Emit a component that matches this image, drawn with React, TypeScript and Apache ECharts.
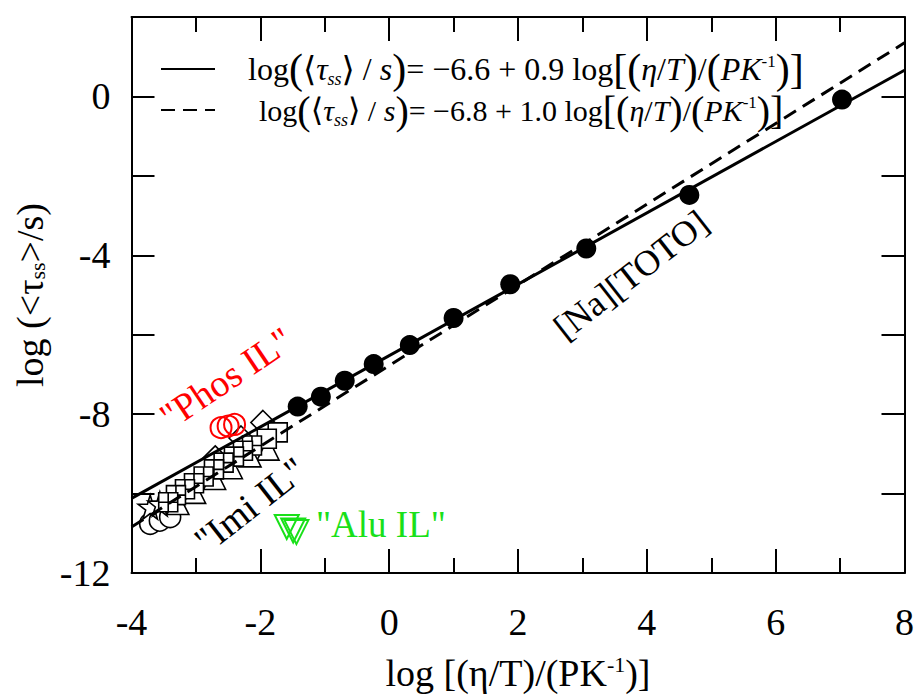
import React, { useEffect, useRef } from "react";
import * as echarts from "echarts";

// ---- data ----
const fitX = [-4, 8];
const fitSolidY = [-10.12, 0.66];
const fitDashedY = [-10.84, 1.35];

const natotoX = [-1.42, -1.06, -0.69, -0.24, 0.32, 1.0, 1.88, 3.06, 4.66, 7.03];
const natotoY = [-7.81, -7.56, -7.16, -6.74, -6.26, -5.58, -4.73, -3.83, -2.48, -0.08];

const imiBoxX = [-2.13, -2.27, -2.41, -2.57, -2.72, -2.88, -3.03, -3.17, -3.31, -3.43];
const imiBoxY = [-8.79, -8.92, -9.07, -9.22, -9.39, -9.57, -9.74, -9.89, -10.04, -10.22];

const imiSquareX = [-1.73, -1.9];
const imiSquareY = [-8.46, -8.62];

const imiDiamondX = [-1.96, -2.3, -2.7];
const imiDiamondY = [-8.21, -8.6, -9.1];

const imiTriX = [-1.88, -2.16, -2.45, -2.71, -3.02, -3.28];
const imiTriY = [-8.88, -9.05, -9.35, -9.62, -9.97, -10.25];

const imiStarX = [-3.71, -3.56];
const imiStarY = [-10.34, -10.26];

const imiCircleX = [-3.71, -3.56, -3.4];
const imiCircleY = [-10.76, -10.68, -10.59];

const phosX = [-2.61, -2.5, -2.4];
const phosY = [-8.34, -8.3, -8.26];

const aluX = [-1.59, -1.49, -1.44];
const aluY = [-10.84, -10.93, -10.97];

const xTicks = [-4, -2, 0, 2, 4, 6, 8];
const yTickLabels = [0, -4, -8, -12];

const F = '"Liberation Serif", "DejaVu Serif", serif';

const zip = (xs: number[], ys: number[]) => xs.map((x, i) => [x, ys[i]]);

const STAR = "path://M50,0 L61,35 L98,35 L68,57 L79,91 L50,70 L21,91 L32,57 L2,35 L39,35 Z";
const BOXPLUS = "path://M0,0 L10,0 L10,10 L0,10 Z M5,0 L5,10 M0,5 L10,5";
const DIAMOND = "path://M5,0 L10,5 L5,10 L0,5 Z";
const SQUARE = "path://M0,0 L10,0 L10,10 L0,10 Z";

const openStyle = { color: "#fff", borderColor: "#000", borderWidth: 1.6, opacity: 1 };

const richSet = (p: string, fs: number, pad: number) => ({
  [p + "L"]: { fontFamily: F, fontSize: fs, color: "#000", lineHeight: 38, padding: [0, 0, 0, pad] },
  [p + "n"]: { fontFamily: F, fontSize: fs, color: "#000", lineHeight: 38 },
  [p + "i"]: { fontFamily: F, fontSize: fs, fontStyle: "italic", color: "#000", lineHeight: 38 },
  [p + "b"]: { fontFamily: F, fontSize: fs + 10, color: "#000", lineHeight: 38 },
  [p + "a"]: { fontFamily: F, fontSize: fs + 2, color: "#000", lineHeight: 38 },
  [p + "sub"]: { fontFamily: F, fontSize: 18, fontStyle: "italic", color: "#000", padding: [20, 0, 0, 0] },
  [p + "sup"]: { fontFamily: F, fontSize: 17, color: "#000", padding: [0, 0, 16, 0] },
});

const legendLine = (p: string, eq: string) =>
  `{${p}L|log}{${p}b|(}{${p}a|⟨}{${p}i|τ}{${p}sub|ss}{${p}a|⟩}{${p}n| / }{${p}i|s}{${p}b|)}{${p}n|${eq}}{${p}b|[(}{${p}i|η}{${p}n|/}{${p}i|T}{${p}b|)}{${p}n|/}{${p}b|(}{${p}i|PK}{${p}sup|-1}{${p}b|)]}`;

export default function App() {
  const ref = useRef<HTMLDivElement>(null);
  useEffect(() => {
    document.body.style.margin = "0";
    const chart = echarts.init(ref.current!, null, { renderer: "svg" });
    const axisCommon = {
      type: "value" as const,
      axisLine: { onZero: false, lineStyle: { color: "#000", width: 2 } },
      splitLine: { show: false },
      minorSplitLine: { show: false },
    };
    const legendText1 = legendLine("p", "= −6.6 + 0.9 log");
    const legendText2 = legendLine("q", "= −6.8 + 1.0 log");

    chart.setOption({
      animation: false,
      grid: { left: 131.5, right: 11.5, top: 17, bottom: 121, containLabel: false },
      legend: {
        data: ["fit1", "fit2"],
        orient: "vertical",
        left: 155,
        top: 43,
        itemWidth: 54,
        itemHeight: 14,
        itemGap: 0,
        itemStyle: { opacity: 0 },
        formatter: (name: string) => (name === "fit1" ? legendText1 : legendText2),
        textStyle: {
          color: "#000",
          fontFamily: F,
          fontSize: 32,
          rich: { ...richSet("p", 32, 28), ...richSet("q", 30, 39) },
        },
      },
      xAxis: [
        {
          ...axisCommon,
          position: "bottom",
          min: -4,
          max: 8,
          interval: 2,
          axisTick: { inside: true, length: 24, lineStyle: { color: "#000", width: 2 } },
          minorTick: { show: true, splitNumber: 2, length: 15, lineStyle: { color: "#000", width: 2 } },
          axisLabel: {
            color: "#000",
            fontFamily: F,
            fontSize: 38,
            margin: 30,
            formatter: (v: number) => (xTicks.includes(v) ? String(v) : ""),
          },
          name: "log [(η/T)/(PK{sup|-1})]",
          nameLocation: "middle",
          nameGap: 80,
          nameTextStyle: {
            color: "#000",
            fontFamily: F,
            fontSize: 38,
            rich: { sup: { fontFamily: F, fontSize: 22, color: "#000", padding: [0, 0, 18, 0] } },
          },
        },
        {
          ...axisCommon,
          position: "top",
          min: -4,
          max: 8,
          interval: 2,
          axisTick: { inside: true, length: 24, lineStyle: { color: "#000", width: 2 } },
          minorTick: { show: true, splitNumber: 2, length: 15, lineStyle: { color: "#000", width: 2 } },
          axisLabel: { show: false },
        },
      ],
      yAxis: [
        {
          ...axisCommon,
          position: "left",
          min: -12,
          max: 2,
          interval: 2,
          axisTick: { inside: true, length: 23, lineStyle: { color: "#000", width: 2 } },
          axisLabel: {
            color: "#000",
            fontFamily: F,
            fontSize: 38,
            margin: 21,
            formatter: (v: number) => (yTickLabels.includes(v) ? String(v) : ""),
          },
          name: "log (<τ{sub|ss}>/s)",
          nameLocation: "middle",
          nameGap: 80,
          nameTextStyle: {
            color: "#000",
            fontFamily: F,
            fontSize: 38,
            rich: { sub: { fontFamily: F, fontSize: 22, color: "#000", padding: [16, 0, 0, 0] } },
          },
        },
        {
          ...axisCommon,
          position: "right",
          min: -12,
          max: 2,
          interval: 2,
          axisTick: { inside: true, length: 23, lineStyle: { color: "#000", width: 2 } },
          axisLabel: { show: false },
        },
      ],
      series: [
        {
          name: "Imi circles",
          type: "scatter",
          data: zip(imiCircleX, imiCircleY),
          symbol: "circle",
          symbolSize: 21,
          itemStyle: openStyle,
        },
        {
          name: "Imi stars",
          type: "scatter",
          data: zip(imiStarX, imiStarY),
          symbol: STAR,
          symbolSize: 24,
          itemStyle: openStyle,
        },
        {
          name: "Imi triangles",
          type: "scatter",
          data: zip(imiTriX, imiTriY),
          symbol: "triangle",
          symbolSize: 22,
          itemStyle: openStyle,
        },
        {
          name: "Imi diamonds",
          type: "scatter",
          data: zip(imiDiamondX, imiDiamondY),
          symbol: DIAMOND,
          symbolSize: 24,
          itemStyle: openStyle,
        },
        {
          name: "Imi squares",
          type: "scatter",
          data: zip(imiSquareX, imiSquareY),
          symbol: SQUARE,
          symbolSize: 19,
          itemStyle: openStyle,
        },
        {
          name: "Imi boxplus",
          type: "scatter",
          data: zip(imiBoxX, imiBoxY),
          symbol: BOXPLUS,
          symbolSize: 19,
          itemStyle: openStyle,
        },
        {
          name: "Phos IL",
          type: "scatter",
          data: zip(phosX, phosY),
          symbol: "circle",
          symbolSize: 21,
          itemStyle: { color: "transparent", borderColor: "#ff0000", borderWidth: 2, opacity: 1 },
        },
        {
          name: "Alu IL",
          type: "scatter",
          data: zip(aluX, aluY),
          symbol: "triangle",
          symbolRotate: 180,
          symbolSize: 24,
          itemStyle: { color: "transparent", borderColor: "#19e019", borderWidth: 2, opacity: 1 },
        },
        {
          name: "fit1",
          type: "line",
          data: zip(fitX, fitSolidY),
          showSymbol: false,
          symbol: "none",
          lineStyle: { color: "#000", width: 3, type: "solid" },
          itemStyle: { color: "#000" },
        },
        {
          name: "fit2",
          type: "line",
          data: zip(fitX, fitDashedY),
          showSymbol: false,
          symbol: "none",
          lineStyle: { color: "#000", width: 3, type: [14, 8] },
          itemStyle: { color: "#000" },
        },
        {
          name: "[Na][TOTO]",
          type: "scatter",
          data: zip(natotoX, natotoY),
          symbol: "circle",
          symbolSize: 20,
          itemStyle: { color: "#000", opacity: 1 },
        },
      ],
      graphic: [
        {
          type: "text",
          x: 631,
          y: 275,
          rotation: (38 * Math.PI) / 180,
          style: {
            text: "[Na][TOTO]",
            font: `36px ${F}`,
            fill: "#000",
            align: "center",
            verticalAlign: "middle",
            textAlign: "center",
            textVerticalAlign: "middle",
          },
        },
        {
          type: "text",
          x: 226,
          y: 378,
          rotation: (34 * Math.PI) / 180,
          style: {
            text: '"Phos IL"',
            font: `38px ${F}`,
            fill: "#ff0000",
            align: "center",
            verticalAlign: "middle",
            textAlign: "center",
            textVerticalAlign: "middle",
          },
        },
        {
          type: "text",
          x: 250,
          y: 505,
          rotation: (38 * Math.PI) / 180,
          style: {
            text: '"Imi IL"',
            font: `38px ${F}`,
            fill: "#000",
            align: "center",
            verticalAlign: "middle",
            textAlign: "center",
            textVerticalAlign: "middle",
          },
        },
        {
          type: "text",
          x: 316,
          y: 524,
          style: {
            text: '"Alu IL"',
            font: `37px ${F}`,
            fill: "#19e019",
            align: "left",
            verticalAlign: "middle",
            textAlign: "left",
            textVerticalAlign: "middle",
          },
        },
      ],
    });
    return () => chart.dispose();
  }, []);
  return <div ref={ref} style={{ width: 917, height: 697 }} />;
}
